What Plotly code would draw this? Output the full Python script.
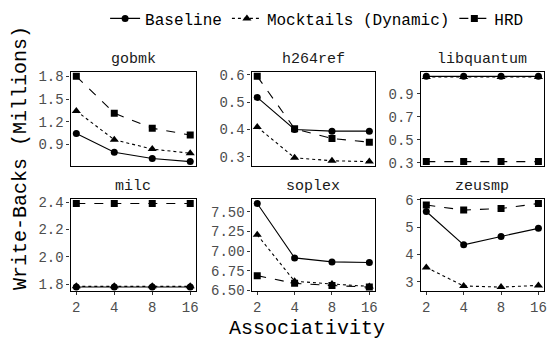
import plotly.graph_objects as go
from plotly.subplots import make_subplots
import math

W, H = 551, 349

associativity = [2, 4, 8, 16]
benchmarks = ["gobmk", "h264ref", "libquantum", "milc", "soplex", "zeusmp"]

baseline = {
    "gobmk": [1.044, 0.797, 0.714, 0.673],
    "h264ref": [0.517, 0.400, 0.394, 0.394],
    "libquantum": [1.051, 1.051, 1.051, 1.051],
    "milc": [1.780, 1.780, 1.780, 1.780],
    "soplex": [7.605, 6.914, 6.863, 6.855],
    "zeusmp": [5.567, 4.347, 4.655, 4.950],
}
mocktails = {
    "gobmk": [1.342, 0.962, 0.838, 0.784],
    "h264ref": [0.409, 0.297, 0.286, 0.283],
    "libquantum": [1.045, 1.045, 1.045, 1.045],
    "milc": [1.785, 1.785, 1.785, 1.785],
    "soplex": [7.207, 6.617, 6.582, 6.551],
    "zeusmp": [3.520, 2.840, 2.800, 2.860],
}
hrd = {
    "gobmk": [1.800, 1.313, 1.115, 1.024],
    "h264ref": [0.594, 0.403, 0.367, 0.354],
    "libquantum": [0.311, 0.311, 0.311, 0.311],
    "milc": [2.390, 2.390, 2.390, 2.390],
    "soplex": [6.688, 6.590, 6.563, 6.543],
    "zeusmp": [5.806, 5.620, 5.680, 5.860],
}
y_ticks = {
    "gobmk": ([0.9, 1.2, 1.5, 1.8], ["0.9", "1.2", "1.5", "1.8"]),
    "h264ref": ([0.3, 0.4, 0.5, 0.6], ["0.3", "0.4", "0.5", "0.6"]),
    "libquantum": ([0.3, 0.5, 0.7, 0.9], ["0.3", "0.5", "0.7", "0.9"]),
    "milc": ([1.8, 2.0, 2.2, 2.4], ["1.8", "2.0", "2.2", "2.4"]),
    "soplex": ([6.5, 6.75, 7.0, 7.25, 7.5], ["6.50", "6.75", "7.00", "7.25", "7.50"]),
    "zeusmp": ([3, 4, 5, 6], ["3", "4", "5", "6"]),
}
x_ticktext = ["2", "4", "8", "16"]

FONT = "Liberation Mono, Courier New, monospace"
TICKC = "#4D4D4D"

series = [
    ("Baseline", baseline, "solid", "circle", 7),
    ("Mocktails (Dynamic)", mocktails, "dot", "triangle-up", 8),
    ("HRD", hrd, "dash", "square", 7),
]

fig = make_subplots(rows=2, cols=3)

# panel pixel boxes
xpix = [(71, 197), (253, 377), (423, 547)]
ypix = [(68, 166), (201, 297)]

lx0, lx1 = math.log10(2), math.log10(16)
pad = 0.05 * (lx1 - lx0)

for i, b in enumerate(benchmarks):
    r, c = i // 3 + 1, i % 3 + 1
    for name, d, dash, sym, ms in series:
        fig.add_trace(
            go.Scatter(
                x=associativity, y=d[b], mode="lines+markers", name=name,
                line=dict(color="black", width=1.1, dash=dash),
                marker=dict(symbol=sym, size=ms, color="black"),
                showlegend=(i == 0),
            ),
            row=r, col=c,
        )
    vals = baseline[b] + mocktails[b] + hrd[b]
    lo, hi = min(vals), max(vals)
    sp = hi - lo
    idx = "" if i == 0 else str(i + 1)
    x0, x1 = xpix[c - 1]
    y0, y1 = ypix[r - 1]
    fig.layout["xaxis" + idx].update(
        domain=[x0 / W, x1 / W], type="log", range=[lx0 - pad, lx1 + pad],
        tickvals=associativity, ticktext=x_ticktext,
        showticklabels=(r == 2), ticks="outside" if r == 2 else "",
        ticklen=3, tickcolor="#333", tickfont=dict(family=FONT, size=14, color=TICKC),
        showgrid=False, zeroline=False, showline=True, mirror=True,
        linecolor="black", linewidth=1.3,
    )
    tv, tt = y_ticks[b]
    fig.layout["yaxis" + idx].update(
        domain=[1 - y1 / H, 1 - y0 / H], range=[lo - 0.05 * sp, hi + 0.05 * sp],
        tickvals=tv, ticktext=tt, ticks="outside", ticklen=3, tickcolor="#333",
        tickfont=dict(family=FONT, size=14, color=TICKC),
        showgrid=False, zeroline=False, showline=True, mirror=True,
        linecolor="black", linewidth=1.3,
    )
    fig.add_annotation(
        text=b, x=(x0 + x1) / 2 / W, y=1 - (y0 - 2) / H, xref="paper", yref="paper",
        xanchor="center", yanchor="bottom", showarrow=False,
        font=dict(family=FONT, size=15, color="#1A1A1A"),
    )

fig.add_annotation(
    text="Write-Backs (Millions)", x=20 / W, y=1 - 158 / H, xref="paper", yref="paper",
    textangle=-90, xanchor="center", yanchor="middle", showarrow=False,
    font=dict(family=FONT, size=20, color="black"),
)
fig.add_annotation(
    text="Associativity", x=309 / W, y=1 - 336 / H, xref="paper", yref="paper",
    xanchor="center", yanchor="middle", showarrow=False,
    font=dict(family=FONT, size=20, color="black"),
)

fig.update_layout(
    width=W, height=H, margin=dict(l=0, r=0, t=0, b=0),
    plot_bgcolor="white", paper_bgcolor="white",
    legend=dict(orientation="h", x=532 / W, xanchor="right", y=1 - 12 / H, yanchor="middle",
                font=dict(family=FONT, size=16, color="black"),
                itemwidth=30, bgcolor="rgba(0,0,0,0)", tracegroupgap=0),
)

fig.write_html("out.html")
